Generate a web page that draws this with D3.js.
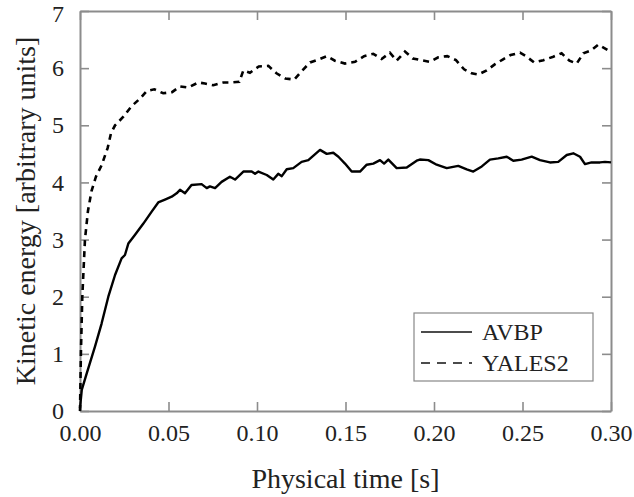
<!DOCTYPE html>
<html><head><meta charset="utf-8">
<script src="https://cdn.jsdelivr.net/npm/d3@7"></script>
<style>body{margin:0;background:#fff}svg{display:block}</style>
</head><body>
<svg id="c" width="634" height="497"></svg>
<script>
// ---- data ----
const xTicks = [0.00, 0.05, 0.10, 0.15, 0.20, 0.25, 0.30];
const xTickLabels = ["0.00", "0.05", "0.10", "0.15", "0.20", "0.25", "0.30"];
const yTicks = [0, 1, 2, 3, 4, 5, 6, 7];
const seriesNames = ["AVBP", "YALES2"];

const tAVBP = [0, 0.001, 0.0038, 0.0085, 0.0122, 0.016, 0.0198, 0.0235, 0.0254, 0.0273, 0.031, 0.0358, 0.0405, 0.0442, 0.048, 0.0518, 0.0546, 0.0565, 0.0593, 0.063, 0.0687, 0.0716, 0.0734, 0.0763, 0.080, 0.0847, 0.0876, 0.0923, 0.097, 0.0989, 0.1008, 0.1055, 0.1092, 0.112, 0.114, 0.1168, 0.1205, 0.1252, 0.129, 0.1356, 0.1394, 0.1431, 0.146, 0.1497, 0.1535, 0.1582, 0.162, 0.1657, 0.1695, 0.1718, 0.1742, 0.1789, 0.1846, 0.1902, 0.192, 0.1968, 0.2015, 0.2072, 0.2137, 0.2185, 0.2222, 0.227, 0.2316, 0.2363, 0.2411, 0.2448, 0.2495, 0.2552, 0.2599, 0.2655, 0.2702, 0.275, 0.2787, 0.2825, 0.2853, 0.289, 0.2938, 0.2966, 0.30];
const vAVBP = [0.05, 0.37, 0.66, 1.13, 1.53, 2.0, 2.38, 2.67, 2.73, 2.93, 3.08, 3.28, 3.49, 3.65, 3.70, 3.75, 3.81, 3.87, 3.81, 3.955, 3.97, 3.90, 3.93, 3.90, 4.01, 4.10, 4.05, 4.19, 4.19, 4.15, 4.19, 4.13, 4.05, 4.15, 4.11, 4.23, 4.25, 4.36, 4.39, 4.57, 4.50, 4.52, 4.45, 4.33, 4.19, 4.19, 4.31, 4.33, 4.39, 4.33, 4.40, 4.25, 4.26, 4.38, 4.40, 4.39, 4.31, 4.25, 4.29, 4.23, 4.19, 4.28, 4.40, 4.42, 4.45, 4.38, 4.40, 4.45, 4.39, 4.35, 4.36, 4.48, 4.51, 4.45, 4.32, 4.35, 4.35, 4.36, 4.35];

const tYALES2 = [0, 0.0005, 0.0013, 0.0028, 0.0045, 0.0065, 0.009, 0.0122, 0.0156, 0.0175, 0.0198, 0.0245, 0.029, 0.034, 0.0377, 0.042, 0.047, 0.052, 0.0565, 0.061, 0.067, 0.0706, 0.0753, 0.081, 0.0857, 0.090, 0.0923, 0.096, 0.101, 0.1064, 0.111, 0.116, 0.121, 0.125, 0.130, 0.1346, 0.1394, 0.144, 0.1497, 0.1554, 0.1605, 0.1657, 0.1704, 0.1751, 0.1789, 0.1836, 0.188, 0.1927, 0.1977, 0.2024, 0.2075, 0.2124, 0.217, 0.2213, 0.225, 0.2298, 0.2345, 0.2388, 0.2433, 0.2486, 0.2524, 0.2565, 0.2618, 0.2674, 0.2721, 0.2765, 0.2806, 0.2844, 0.2887, 0.2928, 0.2985, 0.30];
const vYALES2 = [0, 1.0, 2.0, 3.0, 3.5, 3.85, 4.1, 4.30, 4.60, 4.86, 5.0, 5.15, 5.33, 5.47, 5.6, 5.63, 5.56, 5.58, 5.68, 5.66, 5.75, 5.73, 5.70, 5.75, 5.75, 5.76, 5.96, 5.92, 6.03, 6.04, 5.91, 5.82, 5.80, 5.94, 6.10, 6.15, 6.21, 6.13, 6.08, 6.11, 6.21, 6.25, 6.16, 6.27, 6.13, 6.29, 6.17, 6.14, 6.11, 6.19, 6.21, 6.14, 5.98, 5.91, 5.89, 5.96, 6.07, 6.15, 6.23, 6.27, 6.20, 6.10, 6.14, 6.20, 6.26, 6.13, 6.08, 6.26, 6.31, 6.41, 6.31, 6.32];

// ---- layout ----
const svg = d3.select("#c");
const L = 80, R = 611, T = 11, B = 411;
const x = d3.scaleLinear().domain([0, 0.30]).range([L, R]);
const y = d3.scaleLinear().domain([0, 7]).range([B, T]);
const axisColor = "#8c8c8c";
const font = "'Liberation Serif', 'Times New Roman', serif";

// axes (ticks inside)
const gB = svg.append("g").attr("transform", `translate(0,${B})`)
  .call(d3.axisBottom(x).tickValues(xTicks).tickFormat((d, i) => xTickLabels[i]).tickSizeInner(-9).tickSizeOuter(0).tickPadding(13));
const gT = svg.append("g").attr("transform", `translate(0,${T})`)
  .call(d3.axisTop(x).tickValues(xTicks).tickFormat("").tickSizeInner(-9).tickSizeOuter(0));
const gL = svg.append("g").attr("transform", `translate(${L},0)`)
  .call(d3.axisLeft(y).tickValues(yTicks).tickFormat(d3.format("d")).tickSizeInner(-9).tickSizeOuter(0).tickPadding(16));
const gR = svg.append("g").attr("transform", `translate(${R},0)`)
  .call(d3.axisRight(y).tickValues(yTicks).tickFormat("").tickSizeInner(-9).tickSizeOuter(0));
[gB, gT, gL, gR].forEach(g => {
  g.selectAll(".domain").attr("stroke", axisColor).attr("stroke-width", 2);
  g.selectAll(".tick line").attr("stroke", axisColor).attr("stroke-width", 1.6);
  g.selectAll("text").attr("fill", "#222").style("font-family", font).style("font-size", "24px");
});
gB.selectAll("text").attr("dy", "0.72em");
gL.selectAll(".tick text").filter(d => d === 7).attr("dy", "0.42em");

// lines
const line = d3.line().x(d => x(d[0])).y(d => y(d[1]));
const avbp = tAVBP.map((t, i) => [t, vAVBP[i]]);
const yales = tYALES2.map((t, i) => [t, vYALES2[i]]);
svg.append("path").datum(yales).attr("d", line).attr("fill", "none")
  .attr("stroke", "#000").attr("stroke-width", 2.6).attr("stroke-dasharray", "6,5");
svg.append("path").datum(avbp).attr("d", line).attr("fill", "none")
  .attr("stroke", "#000").attr("stroke-width", 2.4).attr("stroke-linejoin", "round");

// axis titles
svg.append("text").attr("x", (L + R) / 2).attr("y", 488).attr("text-anchor", "middle")
  .style("font-family", font).style("font-size", "28px").attr("fill", "#222").text("Physical time [s]");
svg.append("text").attr("transform", `translate(35,${(T + B) / 2}) rotate(-90)`).attr("text-anchor", "middle")
  .style("font-family", font).style("font-size", "28px").attr("fill", "#222").text("Kinetic energy [arbitrary units]");

// legend
const lg = svg.append("g");
lg.append("rect").attr("x", 414).attr("y", 313).attr("width", 179).attr("height", 68)
  .attr("fill", "#fff").attr("stroke", "#888").attr("stroke-width", 1.2);
const legY = [332, 363];
const legDash = [null, "9,7"];
seriesNames.forEach((name, i) => {
  lg.append("line").attr("x1", 421).attr("x2", 472).attr("y1", legY[i]).attr("y2", legY[i])
    .attr("stroke", "#111").attr("stroke-width", 1.6).attr("stroke-dasharray", legDash[i]);
  lg.append("text").attr("x", 482).attr("y", legY[i] + 8).style("font-family", font)
    .style("font-size", "24px").attr("fill", "#222").text(name);
});
</script>
</body></html>
